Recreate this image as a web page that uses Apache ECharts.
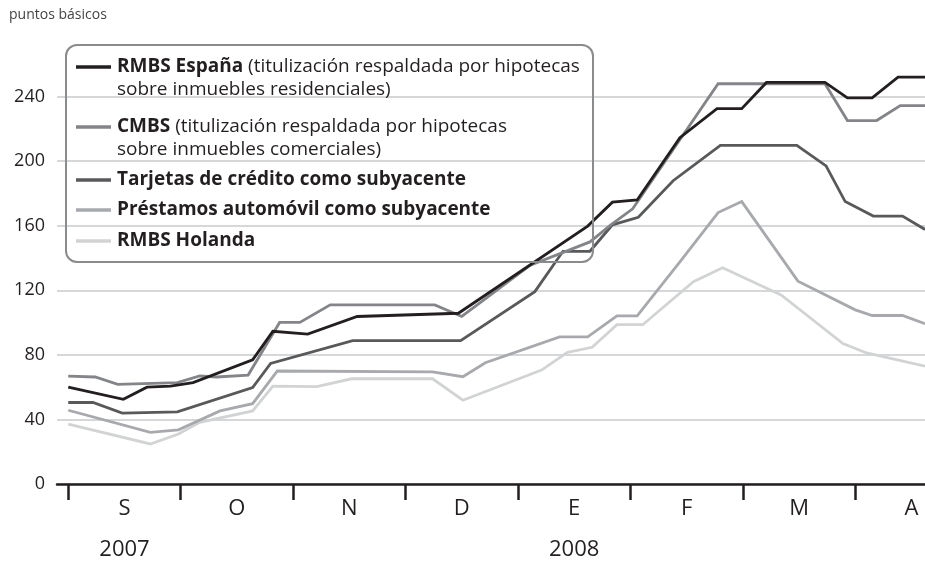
<!DOCTYPE html>
<html>
<head>
<meta charset="utf-8">
<script src="https://cdn.jsdelivr.net/npm/echarts@6/dist/echarts.min.js"></script>
<style>
  html, body { margin: 0; padding: 0; background: #fff; }
  #chart { width: 925px; height: 561px; }
</style>
</head>
<body>
<div id="chart"></div>
<script>
// posición en meses desde el 1 de septiembre de 2007
var espanaX = [0, 0.49, 0.70, 0.91, 1.11, 1.64, 1.82, 2.13, 2.57, 3.47, 4.62, 4.84, 5.06, 5.44, 5.77, 5.99, 6.21, 6.73, 6.93, 7.15, 7.38, 7.62];
var espanaY = [60, 52.5, 60, 60.7, 62.8, 77, 94.6, 92.9, 103.8, 105.8, 159.8, 174.6, 176, 214.6, 232.6, 232.6, 248.8, 248.8, 239.2, 239.2, 252.1, 252.1];

var cmbsX = [0, 0.24, 0.44, 0.97, 1.17, 1.32, 1.60, 1.88, 2.06, 2.33, 3.26, 3.50, 4.11, 4.64, 4.82, 5.02, 5.78, 6.73, 6.93, 7.19, 7.40, 7.62];
var cmbsY = [66.9, 66.3, 61.7, 62.8, 66.9, 66.3, 67.5, 100.1, 100.1, 111, 111, 103.8, 135.6, 150, 160.2, 170.5, 248, 248, 225.2, 225.2, 234.5, 234.5];

var tarjetasX = [0, 0.22, 0.48, 0.97, 1.64, 1.80, 2.53, 3.49, 4.15, 4.40, 4.64, 4.84, 5.07, 5.38, 5.80, 6.48, 6.74, 6.91, 7.16, 7.42, 7.62];
var tarjetasY = [50.5, 50.5, 43.9, 44.7, 59.7, 74.7, 88.8, 88.8, 119.2, 144.2, 144.2, 160.6, 165.3, 187.9, 209.8, 209.8, 197.1, 175, 166, 166, 157.7];

var prestamosX = [0, 0.73, 0.98, 1.35, 1.64, 1.86, 3.24, 3.51, 3.71, 4.37, 4.62, 4.88, 5.06, 5.44, 5.78, 5.99, 6.49, 7.00, 7.15, 7.42, 7.62];
var prestamosY = [45.7, 32, 33.6, 45.3, 49.8, 70, 69.5, 66.5, 75.1, 91.1, 91.1, 104.2, 104.2, 137.6, 168.2, 175, 125.7, 107.9, 104.4, 104.4, 99.3];

var holandaX = [0, 0.73, 0.98, 1.17, 1.64, 1.82, 2.21, 2.52, 3.24, 3.51, 4.21, 4.44, 4.66, 4.88, 5.11, 5.56, 5.82, 6.34, 6.89, 7.10, 7.62];
var holandaY = [37.1, 24.8, 31, 38.2, 45.3, 60.7, 60.3, 65.2, 65.2, 51.9, 70.6, 81.6, 84.7, 98.7, 98.7, 125.3, 134, 117.1, 87, 81.2, 73];

var meses = ["S", "O", "N", "D", "E", "F", "M", "A"];
var anios = { 0: "2007", 4: "2008" };

var font = "'Open Sans', 'Noto Sans', sans-serif";
var ink = "#231f20";
var colores = ["#231f20", "#838588", "#58595b", "#a7a9ac", "#d1d3d4"];

function pares(xs, ys) {
    return xs.map(function(x, i) { return [x, ys[i]]; });
}

var chart = echarts.init(document.getElementById("chart"));

var nombres = ["RMBS España", "CMBS", "Tarjetas de crédito como subyacente", "Préstamos automóvil como subyacente", "RMBS Holanda"];
var datos = [pares(espanaX, espanaY), pares(cmbsX, cmbsY), pares(tarjetasX, tarjetasY), pares(prestamosX, prestamosY), pares(holandaX, holandaY)];

var series = datos.map(function(d, i) {
    return {
        name: nombres[i],
        type: "line",
        data: d,
        symbol: "none",
        z: 10 - i,
        lineStyle: { color: colores[i], width: 2.8, join: "miter" },
        itemStyle: { color: colores[i] }
    };
});

// leyenda dibujada a mano (con texto en dos líneas)
var leyenda = [
    { y: 67, text: "{b|RMBS España}{n| (titulización respaldada por hipotecas}\n{n|sobre inmuebles residenciales)}" },
    { y: 127, text: "{b|CMBS}{n| (titulización respaldada por hipotecas}\n{n|sobre inmuebles comerciales)}" },
    { y: 180, text: "{b|Tarjetas de crédito como subyacente}" },
    { y: 210, text: "{b|Préstamos automóvil como subyacente}" },
    { y: 241, text: "{b|RMBS Holanda}" }
];
var graficos = [{
    type: "rect",
    shape: { x: 66, y: 45, width: 527, height: 217, r: 11 },
    style: { fill: "none", stroke: "#8a8b8d", lineWidth: 2 },
    z: 20
}, {
    type: "text",
    left: 9, top: 8,
    style: { text: "puntos básicos", font: "14px " + font, fill: "#444" }
}];
leyenda.forEach(function(l, i) {
    graficos.push({
        type: "line",
        shape: { x1: 76, y1: l.y, x2: 111, y2: l.y },
        style: { stroke: colores[i], lineWidth: 3.5 },
        z: 20
    });
    graficos.push({
        type: "text",
        x: 117, y: l.y - 12,
        z: 20,
        style: {
            text: l.text,
            fill: ink,
            rich: {
                b: { fontFamily: font, fontSize: 19, fontWeight: "bold", lineHeight: 23, fill: ink },
                n: { fontFamily: font, fontSize: 19, lineHeight: 23, fill: ink }
            }
        }
    });
});

var option = {
    animation: false,
    backgroundColor: "#fff",
    grid: { left: 57, right: 0, top: 48.25, bottom: 74 },
    xAxis: {
        type: "value",
        min: -0.1,
        max: 7.62,
        splitLine: { show: false },
        axisLine: { lineStyle: { color: ink, width: 2.5 } },
        axisTick: {
            show: true,
            length: 16,
            customValues: [0, 1, 2, 3, 4, 5, 6, 7],
            lineStyle: { color: ink, width: 2.5 }
        },
        axisLabel: {
            customValues: [0.5, 1.5, 2.5, 3.5, 4.5, 5.5, 6.5, 7.5],
            margin: 5,
            formatter: function(v) {
                var i = Math.floor(v);
                var s = "{m|" + meses[i] + "}";
                if (anios[i]) s += "\n{y|" + anios[i] + "}";
                return s;
            },
            rich: {
                m: { fontFamily: font, fontSize: 22, color: ink, lineHeight: 40 },
                y: { fontFamily: font, fontSize: 22, color: ink, lineHeight: 42 }
            }
        }
    },
    yAxis: {
        type: "value",
        min: 0,
        max: 270,
        interval: 40,
        axisLine: { show: false },
        axisTick: { show: false },
        axisLabel: {
            showMaxLabel: false,
            margin: 12,
            color: ink,
            fontFamily: font,
            fontSize: 18
        },
        splitLine: { showMaxLine: false, lineStyle: { color: "#c9cacc", width: 1.5 } }
    },
    series: series,
    graphic: graficos
};
chart.setOption(option);
</script>
</body>
</html>
